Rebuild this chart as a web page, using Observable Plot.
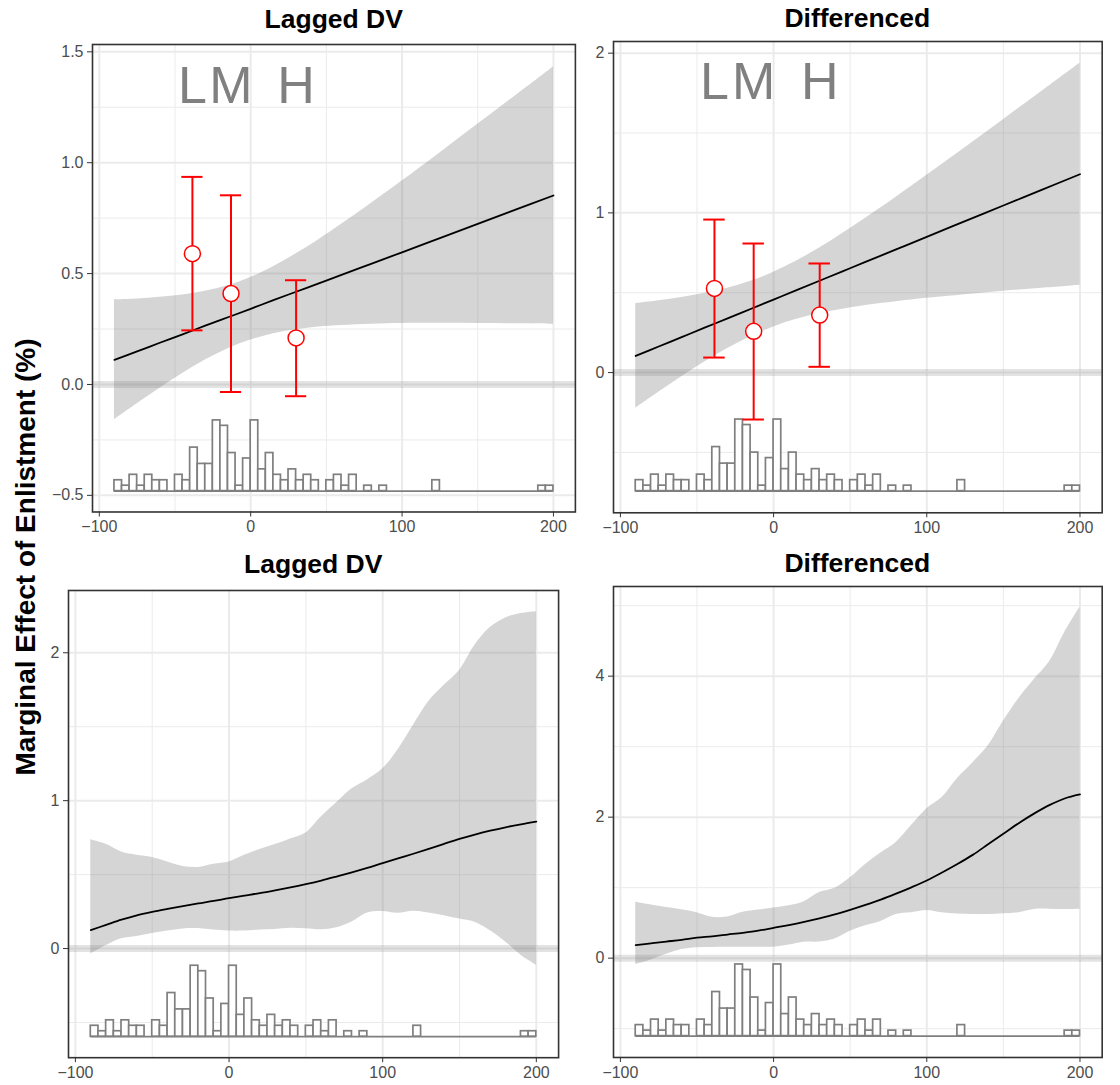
<!DOCTYPE html>
<html><head><meta charset="utf-8">
<script src="https://cdn.jsdelivr.net/npm/d3@7"></script>
<script src="https://cdn.jsdelivr.net/npm/@observablehq/plot@0.6"></script>
<style>
html,body{margin:0;padding:0;background:#fff;}
#root{position:relative;width:1120px;height:1085px;overflow:hidden;background:#fff;font-family:'Liberation Sans',Arial,Helvetica,sans-serif;}
.ttl{position:absolute;font-weight:bold;font-size:26.5px;line-height:26.5px;text-align:center;color:#000;white-space:nowrap;}
.panel{position:absolute;}
#ylab{position:absolute;font-weight:bold;font-size:28px;line-height:28px;white-space:nowrap;color:#000;transform:translate(-50%,-50%) rotate(-90deg);left:26px;top:557px;}
</style></head><body><div id="root"></div>
<script>
// ---------- data ----------
const panelTitles = ["Lagged DV", "Differenced", "Lagged DV", "Differenced"];
const yAxisLabel = "Marginal Effect of Enlistment (%)";

const xMajor = [-100, 0, 100, 200];
const xMinor = [-50, 50, 150];

// histogram of the moderator (bin left edges, width 5)
const histLeft = [-90,-85,-80,-75,-70,-65,-60,-55,-50,-45,-40,-35,-30,-25,-20,-15,-10,-5,0,5,10,15,20,25,30,35,40,45,50,55,60,65,70,75,80,85,90,95,100,105,110,115,120,125,130,135,140,145,150,155,160,165,170,175,180,185,190,195];
const binWidth = 5;
const histCount = [2,1,3,1,3,2,2,0,3,2,8,5,5,13,12,7,1,6,13,4,7,3,2,4,2,3,2,0,2,3,1,3,0,1,0,1,0,0,0,0,0,0,2,0,0,0,0,0,0,0,0,0,0,0,0,0,1,1];

// top row: linear interaction
const linX = [-90,-75,-60,-45,-30,-15,0,15,30,45,60,80,100,125,150,175,200];
const lagFit = [0.111,0.149,0.188,0.226,0.265,0.303,0.341,0.380,0.418,0.456,0.494,0.545,0.596,0.660,0.724,0.788,0.852];
const lagLo  = [-0.159,-0.087,-0.017,0.049,0.110,0.161,0.200,0.229,0.247,0.259,0.266,0.272,0.275,0.276,0.275,0.274,0.272];
const lagHi  = [0.381,0.385,0.393,0.403,0.420,0.445,0.482,0.531,0.589,0.653,0.722,0.818,0.917,1.044,1.173,1.302,1.432];
const difFit = [0.104,0.163,0.222,0.281,0.339,0.398,0.457,0.516,0.575,0.634,0.693,0.771,0.850,0.948,1.046,1.144,1.242];
const difLo  = [-0.223,-0.123,-0.026,0.066,0.150,0.225,0.286,0.334,0.370,0.397,0.420,0.444,0.465,0.488,0.509,0.528,0.547];
const difHi  = [0.431,0.449,0.470,0.496,0.528,0.571,0.628,0.698,0.780,0.871,0.966,1.098,1.235,1.408,1.583,1.760,1.937];

// binned estimates (L, M, H)
const binLabels = ["L", "M", "H"];
const lagBinX  = [-38.5, -13, 30];
const lagBinY  = [0.590, 0.410, 0.210];
const lagBinLo = [0.244, -0.034, -0.053];
const lagBinHi = [0.936, 0.853, 0.470];
const difBinX  = [-38.6, -13, 30.1];
const difBinY  = [0.527, 0.258, 0.360];
const difBinLo = [0.094, -0.294, 0.036];
const difBinHi = [0.958, 0.808, 0.683];
const lagLabelY = 1.269;
const difLabelY = 1.711;

// bottom row: kernel estimates
const kerX = [-90,-80,-70,-60,-50,-40,-30,-20,-10,0,10,20,30,40,50,60,70,80,90,100,110,120,130,140,150,160,170,180,190,200];
const kLagFit = [0.125,0.160,0.195,0.225,0.248,0.268,0.287,0.305,0.322,0.341,0.358,0.375,0.394,0.414,0.436,0.460,0.487,0.515,0.545,0.578,0.610,0.641,0.674,0.708,0.741,0.771,0.797,0.820,0.840,0.858];
const kLagLo  = [-0.038,0.020,0.067,0.082,0.102,0.118,0.133,0.135,0.125,0.118,0.118,0.125,0.129,0.137,0.134,0.127,0.140,0.180,0.240,0.250,0.238,0.252,0.240,0.222,0.199,0.178,0.121,0.045,-0.045,-0.112];
const kLagHi  = [0.736,0.705,0.652,0.630,0.615,0.585,0.555,0.548,0.570,0.585,0.630,0.670,0.703,0.741,0.782,0.890,0.985,1.080,1.140,1.215,1.345,1.510,1.670,1.780,1.880,2.050,2.170,2.235,2.265,2.278];
const kDifFit = [0.185,0.210,0.235,0.260,0.290,0.310,0.335,0.360,0.390,0.430,0.470,0.515,0.565,0.620,0.685,0.755,0.830,0.915,1.005,1.102,1.215,1.335,1.465,1.615,1.765,1.915,2.050,2.170,2.265,2.322];
const kDifLo  = [-0.089,-0.025,0.055,0.122,0.148,0.152,0.155,0.156,0.156,0.156,0.185,0.227,0.228,0.270,0.380,0.460,0.520,0.620,0.645,0.677,0.645,0.625,0.620,0.620,0.630,0.645,0.690,0.695,0.690,0.695];
const kDifHi  = [0.794,0.755,0.718,0.686,0.645,0.580,0.585,0.650,0.682,0.712,0.742,0.800,0.930,0.990,1.140,1.330,1.490,1.640,1.880,2.120,2.280,2.550,2.770,3.010,3.360,3.680,3.950,4.200,4.620,4.979];

// ---------- drawing ----------
const minus = v => (v < 0 ? "\u2212" : "") + Math.abs(v);
const fmt1 = v => (v < 0 ? "\u2212" : "") + Math.abs(v).toFixed(1);

function panel(c) {
  const mL = 55, mT = 8, mR = 12, mB = 32;
  const W = c.R - c.L + mL + mR, H = c.B - c.T + mT + mB;
  const ribbon = c.rx.map((x, i) => ({x, lo: c.lo[i], hi: c.hi[i]}));
  const fit = c.rx.map((x, i) => ({x, y: c.fit[i]}));
  const hist = histLeft.map((x, i) => ({x1: x, x2: x + binWidth, y1: c.hBase, y2: c.hBase + histCount[i] * c.hUnit}));
  const marks = [
    Plot.ruleX(xMinor, {stroke: "#ebebeb", strokeWidth: 1}),
    Plot.ruleY(c.yMinor, {stroke: "#ebebeb", strokeWidth: 1}),
    Plot.ruleX(xMajor, {stroke: "#ebebeb", strokeWidth: 2}),
    Plot.ruleY(c.yMajor, {stroke: "#ebebeb", strokeWidth: 2}),
    Plot.areaY(ribbon, {x: "x", y1: "lo", y2: "hi", fill: "#7f7f7f", fillOpacity: 0.33, curve: "catmull-rom"}),
    Plot.ruleY([0], {stroke: "#7f7f7f", strokeOpacity: 0.22, strokeWidth: 7}),
    Plot.ruleY([c.hBase], {x1: histLeft[0], x2: histLeft[histLeft.length - 1] + binWidth, stroke: "#7f7f7f", strokeWidth: 1.7}),
    Plot.rect(hist.filter(d => d.y2 > d.y1), {x1: "x1", x2: "x2", y1: "y1", y2: "y2", fill: "white", stroke: "#7f7f7f", strokeWidth: 1.7}),
    Plot.line(fit, {x: "x", y: "y", stroke: "black", strokeWidth: 1.8, curve: "catmull-rom"})
  ];
  if (c.bx) {
    const pts = c.bx.map((x, i) => ({x, y: c.by[i], lo: c.blo[i], hi: c.bhi[i], t: binLabels[i]}));
    const cap = 7;
    marks.push(
      Plot.ruleX(pts, {x: "x", y1: "lo", y2: "hi", stroke: "red", strokeWidth: 2}),
      Plot.ruleY(pts, {y: "hi", x1: d => d.x - cap, x2: d => d.x + cap, stroke: "red", strokeWidth: 2}),
      Plot.ruleY(pts, {y: "lo", x1: d => d.x - cap, x2: d => d.x + cap, stroke: "red", strokeWidth: 2}),
      Plot.dot(pts, {x: "x", y: "y", r: 8, fill: "white", stroke: "red", strokeWidth: 1.5}),
      Plot.text(pts, {x: "x", y: () => c.labelY, text: "t", fontSize: 52, fill: "#808080", lineAnchor: "bottom", textAnchor: "middle"})
    );
  }
  marks.push(
    Plot.frame({stroke: "#333", strokeWidth: 1.6}),
    Plot.axisX({ticks: xMajor, tickFormat: minus, tickSize: 5, tickPadding: 4, stroke: "#333", fill: "#4d4d4d", fontSize: 16, label: null}),
    Plot.axisY({ticks: c.yMajor, tickFormat: c.fmt, tickSize: 5, tickPadding: 4, stroke: "#333", fill: "#4d4d4d", fontSize: 16, label: null})
  );
  const svg = Plot.plot({
    width: W, height: H,
    marginLeft: mL, marginTop: mT, marginRight: mR, marginBottom: mB,
    x: {domain: [-104.5, 214.5], label: null},
    y: {domain: c.yDomain, label: null},
    style: {fontFamily: "'Liberation Sans', Arial, sans-serif", fontSize: "16px", background: "transparent", overflow: "visible"},
    marks
  });
  svg.classList.add("panel");
  svg.style.left = (c.L - mL) + "px";
  svg.style.top = (c.T - mT) + "px";
  return svg;
}

const root = document.getElementById("root");
const cfgs = [
  {L: 92.3, R: 575.2, T: 44.3, B: 511.8, tTop: 5.9, yDomain: [-0.575, 1.533], yMajor: [-0.5, 0, 0.5, 1, 1.5], yMinor: [-0.25, 0.25, 0.75, 1.25], fmt: fmt1,
   rx: linX, fit: lagFit, lo: lagLo, hi: lagHi, hBase: -0.481, hUnit: 0.02454,
   bx: lagBinX, by: lagBinY, blo: lagBinLo, bhi: lagBinHi, labelY: lagLabelY},
  {L: 613, R: 1101.7, T: 41, B: 512.3, tTop: 4.9, yDomain: [-0.878, 2.073], yMajor: [0, 1, 2], yMinor: [-0.5, 0.5, 1.5], fmt: minus,
   rx: linX, fit: difFit, lo: difLo, hi: difHi, hBase: -0.7426, hUnit: 0.0345,
   bx: difBinX, by: difBinY, blo: difBinLo, bhi: difBinHi, labelY: difLabelY},
  {L: 68.2, R: 558.3, T: 589.5, B: 1056.7, tTop: 550.9, yDomain: [-0.738, 2.421], yMajor: [0, 1, 2], yMinor: [-0.5, 0.5, 1.5], fmt: minus,
   rx: kerX, fit: kLagFit, lo: kLagLo, hi: kLagHi, hBase: -0.596, hUnit: 0.0369},
  {L: 613, R: 1101.7, T: 586, B: 1057, tTop: 550.3, yDomain: [-1.409, 5.272], yMajor: [0, 2, 4], yMinor: [-1, 1, 3, 5], fmt: minus,
   rx: kerX, fit: kDifFit, lo: kDifLo, hi: kDifHi, hBase: -1.106, hUnit: 0.0782}
];
cfgs.forEach((c, i) => {
  root.appendChild(panel(c));
  const t = document.createElement("div");
  t.className = "ttl";
  t.textContent = panelTitles[i];
  t.style.left = c.L + "px";
  t.style.width = (c.R - c.L) + "px";
  t.style.top = c.tTop + "px";
  root.appendChild(t);
});
const yl = document.createElement("div");
yl.id = "ylab";
yl.textContent = yAxisLabel;
root.appendChild(yl);
</script></body></html>
